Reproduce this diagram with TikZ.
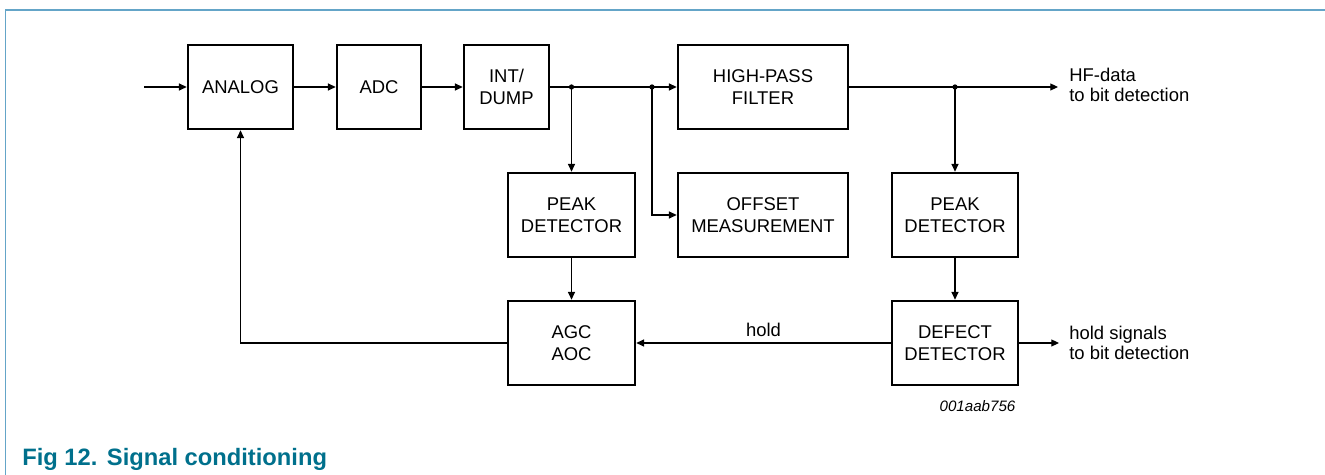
\documentclass[tikz,border=0pt]{standalone}
\usepackage{fontspec}
\setmainfont{Liberation Sans}
\usetikzlibrary{arrows.meta}
\definecolor{capblue}{RGB}{0,112,140}
\definecolor{rulebl}{RGB}{100,165,200}

\begin{document}
\begin{tikzpicture}[x=0.02cm,y=-0.02cm,
    blk/.style={draw,line width=1.5pt,minimum height=1.68cm,inner sep=0pt,align=center,font=\fontsize{10.5}{12.4}\selectfont},
    lbl/.style={inner sep=0pt,align=left,font=\fontsize{10.5}{11.8}\selectfont},
    sig/.style={line width=0.6pt,-{Triangle[length=4.4pt,width=4pt]}},
    wire/.style={line width=0.6pt}]
      \useasboundingbox (0,0) rectangle (1325,475);
      % frame
      \draw[rulebl, line width=0.7pt] (5.5,475) -- (5.5,10) -- (1325,10);
      % top row
      \node[blk, minimum width=2.1cm] (analog) at (240.5,87) {ANALOG};
      \node[blk, minimum width=1.68cm] (adc) at (379,87) {ADC};
      \node[blk, minimum width=1.7cm] (intdump) at (506.5,87) {INT/\\DUMP};
      \node[blk, minimum width=3.4cm] (hpf) at (763,87) {HIGH-PASS\\FILTER};
      % middle row
      \node[blk, minimum width=2.54cm] (peakA) at (571.5,215) {PEAK\\DETECTOR};
      \node[blk, minimum width=3.4cm] (offset) at (763,215) {OFFSET\\MEASUREMENT};
      \node[blk, minimum width=2.52cm] (peakB) at (955,215) {PEAK\\DETECTOR};
      % bottom row
      \node[blk, minimum width=2.54cm] (agc) at (571.5,343) {AGC\\AOC};
      \node[blk, minimum width=2.52cm] (defect) at (955,343) {DEFECT\\DETECTOR};
      % branch points and loose ends
      \coordinate (in) at (144,87);
      \coordinate (jA) at (571.5,87);
      \coordinate (jB) at (652,87);
      \coordinate (jC) at (955,87);
      \coordinate (hfend) at (1058,87);
      \coordinate (holdend) at (1059,343);
      % main path
      \draw[sig] (in) -- (analog);
      \draw[sig] (analog) -- (adc);
      \draw[sig] (adc) -- (intdump);
      \draw[sig] (intdump) -- (hpf);
      \draw[sig] (hpf) -- (hfend);
      % branches
      \draw[sig] (jA) -- (peakA);
      \draw[sig] (jB) |- (offset.west);
      \draw[sig] (jC) -- (peakB);
      \draw[sig] (peakA) -- (agc);
      \draw[sig] (peakB) -- (defect);
      % loop back
      \draw[sig] (defect) -- node[midway,above,inner sep=3.4pt,font=\fontsize{10.5}{12}\selectfont] {hold} (agc);
      \draw[sig] (agc.west) -| (analog.south);
      \draw[sig] (defect) -- (holdend);
      % points
      \fill (jA) circle (1.5pt);
      \fill (jB) circle (1.5pt);
      \fill (jC) circle (1.5pt);
      % outputs
      \node[lbl, anchor=west] (hfout) at (1069,85) {HF-data\\to bit detection};
      \node[lbl, anchor=west] (holdout) at (1069,343) {hold signals\\to bit detection};
      % misc
      \node[anchor=base, inner sep=0pt, font=\fontsize{8.6}{10}\selectfont\itshape] (figid) at (977.5,412) {001aab756};
      \node[anchor=base west, inner sep=0pt, text=capblue, font=\fontsize{13.5}{15}\selectfont\bfseries] (caption) at (22,466) {Fig 12.\hspace{0.4em}Signal conditioning};
\end{tikzpicture}
\end{document}
